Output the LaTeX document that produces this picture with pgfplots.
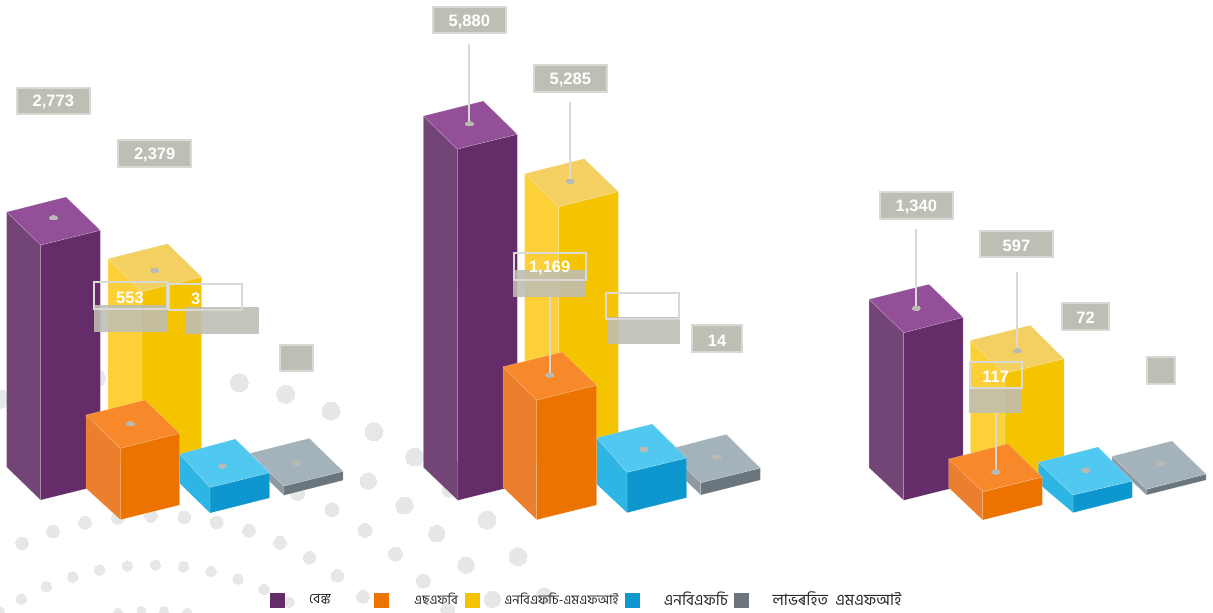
\documentclass[border=0pt]{standalone}
\usepackage{fontspec}
\setmainfont{Liberation Sans}
\newfontfamily\bn[Script=Bengali]{Hind Siliguri}
\usepackage{pgfplots}
\pgfplotsset{compat=1.18}

\definecolor{pF}{HTML}{642D69}\definecolor{pL}{HTML}{734577}\definecolor{pT}{HTML}{934F98}
\definecolor{yF}{HTML}{F5C400}\definecolor{yL}{HTML}{FDD037}\definecolor{yT}{HTML}{F4D062}
\definecolor{oF}{HTML}{EC7300}\definecolor{oL}{HTML}{EC7F2D}\definecolor{oT}{HTML}{F7892B}
\definecolor{bF}{HTML}{0E97CE}\definecolor{bL}{HTML}{2DB6E5}\definecolor{bT}{HTML}{50C8EF}
\definecolor{gF}{HTML}{6A757E}\definecolor{gL}{HTML}{8E99A1}\definecolor{gT}{HTML}{A4B2BB}
\definecolor{dotbg}{HTML}{E6E7E7}
\definecolor{boxfill}{HTML}{BFBEB5}
\definecolor{boxline}{HTML}{D9D9D6}
\definecolor{pin}{HTML}{B9BAB3}

% colour prefix, top: left back right front, bottom: left front right
\newcommand\threedbar[8]{
  \addplot[fill=#1L,draw=white,draw opacity=0.25,line width=0.5pt] coordinates {(#2) (#5) (#7) (#6)} -- cycle;
  \addplot[fill=#1F,draw=white,draw opacity=0.25,line width=0.5pt] coordinates {(#5) (#4) (#8) (#7)} -- cycle;
  \addplot[fill=#1T,draw=white,draw opacity=0.25,line width=0.5pt] coordinates {(#2) (#3) (#4) (#5)} -- cycle;
}
% x1 y1 x2 y2
\newcommand\solidbox[4]{
  \addplot[fill=boxfill,draw=boxline,line width=2pt] coordinates {(#1,#2) (#3,#2) (#3,#4) (#1,#4)} -- cycle;
}
\newcommand\emptybox[4]{
  \addplot[draw=boxline,line width=2pt] coordinates {(#1,#2) (#3,#2) (#3,#4) (#1,#4)} -- cycle;
}
\newcommand\shadebox[4]{
  \addplot[fill=boxfill,fill opacity=0.88,draw=none] coordinates {(#1,#2) (#3,#2) (#3,#4) (#1,#4)} -- cycle;
}
\newcommand\leader[3]{
  \addplot[draw=boxline,line width=2pt] coordinates {(#1,#2) (#1,#3)};
}
\newcommand\val[3]{
  \node[text=white,font=\fontsize{16.5}{18}\selectfont\bfseries] at (#1,#2+1.5) {#3};
}
\newcommand\legsq[3]{
  \addplot[fill=#3,draw=none] coordinates {(#1,593) (#2,593) (#2,608) (#1,608)} -- cycle;
}

\begin{document}
\begin{tikzpicture}
\path[use as bounding box] (0,0) rectangle (1213pt,613pt);
\clip (0,0) rectangle (1213pt,613pt);
\begin{axis}[
    at={(0,0)}, anchor=south west,
    scale only axis,
    width=1213pt,
    height=613pt,
    xmin=0, xmax=1213,
    ymin=0, ymax=613,
    y dir=reverse,
    hide axis,
    clip marker paths=true,
]
\addplot[fill=white,draw=none] coordinates {(0,0) (1213,0) (1213,613) (0,613)} -- cycle;

% background dots
\addplot[only marks,mark=*,mark size=9,mark options={fill=dotbg,draw=dotbg,line width=0pt}] coordinates {
 (239.3,382.7) (285.7,394.3) (331,411) (374,431.7) (414.6,457) (487,520) (518,556.7) (1,399) (96.4,378)
};
\addplot[only marks,mark=*,mark size=8.2,mark options={fill=dotbg,draw=dotbg,line width=0pt}] coordinates {
 (368.2,481) (404,505.7) (436.7,533.7) (466,565) (492.3,599.3) (544.3,596) (405,505.3)
};
\addplot[only marks,mark=*,mark size=7,mark options={fill=dotbg,draw=dotbg,line width=0pt}] coordinates {
 (423.3,581) (395.4,554) (365,530.3) (332,509.7) (297.5,493.3) (447.7,610) (-1,497) (449,490)
};
\addplot[only marks,mark=*,mark size=6.3,mark options={fill=dotbg,draw=dotbg,line width=0pt}] coordinates {
 (337.5,575.7) (309.6,557.7) (280,542.7) (249,530.7) (216.8,522.3) (184.3,517.3) (151,516) (118,517.7)
 (85,522.7) (52.9,531.3) (22,543.3) (363,596.7)
};
\addplot[only marks,mark=*,mark size=5.3,mark options={fill=dotbg,draw=dotbg,line width=0pt}] coordinates {
 (21.3,599) (46.3,586.7) (72.7,577) (99.7,570) (127.3,566) (155.3,565) (183.3,566.7) (211,571.3)
 (238,579) (264,589.3) (289,602.3)
};
\addplot[only marks,mark=*,mark size=4.6,mark options={fill=dotbg,draw=dotbg,line width=0pt}] coordinates {
 (118,612.7) (141.3,611) (164,611) (187.3,612.7) (0,611.7)
};

% group 1
\threedbar{p}{6.7,212}{66,197}{100.3,230.3}{40.7,245}{6.5,467}{40.5,500}{100.3,485.3}
\threedbar{y}{108,258.7}{167.7,243.7}{201.7,277}{142,291.7}{108,452}{142,485}{201.7,470}
\threedbar{g}{250,453.3}{309.3,438.3}{343.2,471.3}{283.9,486}{250,462.6}{283.9,495.3}{343.2,480.3}
\threedbar{b}{179.6,454}{235.4,439}{269.6,472.7}{210,487.3}{179.6,483.3}{210,513}{269.6,498}
\threedbar{o}{86,415}{145,400}{179.6,433.3}{120.4,448.3}{86,488.3}{120.4,519.7}{179.6,505}
% group 2
\threedbar{p}{423.3,116}{483.3,101}{517.3,134.3}{457.3,149}{423.3,467.3}{457.8,500.3}{517.3,485.5}
\threedbar{y}{524.7,173.7}{584.3,158.7}{618.3,191.7}{558.7,206.7}{524.7,452}{558.7,485}{618.3,470}
\threedbar{g}{666.7,449.7}{726.3,434.3}{760.3,468}{700.7,482.7}{666.7,462}{700.7,495}{760.3,480}
\threedbar{b}{596.7,437.7}{652.3,424}{686.7,458}{627,472.3}{596.7,484.3}{627,512.7}{686.7,497.7}
\threedbar{o}{503,366.7}{562.3,352}{596.7,385.3}{536.7,400}{503,487.3}{536.7,519.7}{596.7,505}
% group 3
\threedbar{p}{869,299.3}{929,284.3}{963,317.3}{903.7,332.7}{869,467.7}{903.7,500.3}{963,485.5}
\threedbar{y}{970.3,340.3}{1030.3,325.3}{1064,358.7}{1004.3,373.3}{970.3,452}{1004.3,485}{1064,470}
\threedbar{g}{1112,456.3}{1172,441}{1206,474}{1146.3,489.3}{1112,462}{1146.3,495}{1206,480}
\threedbar{b}{1038.3,462.3}{1098,447}{1132.3,481}{1073,495}{1038.3,483.3}{1073,512.7}{1132.3,497.7}
\threedbar{o}{948.7,459}{1008,443.7}{1042.3,477}{982.7,491.7}{948.7,487.7}{982.7,520}{1042.3,505}

% leader lines
\leader{469.3}{44.3}{123.7}
\leader{570.3}{102}{181.3}
\leader{549.7}{297}{375}
\leader{916.3}{229.3}{308.3}
\leader{1017.3}{271.7}{350.7}
\leader{995.7}{412.7}{472}

% pins on the bar tops
\addplot[only marks,mark=*,mark size=2.2,mark options={xscale=1.9,fill=pin,draw=pin,line width=0pt}] coordinates {
 (53.3,217.7) (154.7,270.3) (130.4,423.7) (222.5,466) (296.4,463)
 (469.3,123.7) (570.3,181.3) (549.7,375) (643.7,449.3) (717,457)
 (916.3,308.3) (1017.3,350.7) (995.7,472) (1085.7,470.3) (1161,463.7)
};

% value boxes
\solidbox{17}{87.7}{89.7}{114.3}
\solidbox{118.3}{140.3}{191.3}{167.3}
\solidbox{280}{344.5}{313}{371}
\shadebox{94}{305}{167}{331.7}
\shadebox{186}{307}{259}{334}
\emptybox{94}{282.3}{166.5}{309}
\emptybox{169}{283.7}{242}{310}

\solidbox{433}{7}{505.7}{33.3}
\solidbox{534.3}{65.3}{607}{91.7}
\solidbox{692.3}{325}{742}{351.7}
\shadebox{513}{270}{586}{297}
\shadebox{607}{317.3}{680}{344}
\emptybox{513.7}{253.3}{586}{279.7}
\emptybox{606.3}{293}{678.7}{319.3}

\solidbox{880}{192.3}{952.7}{218.7}
\solidbox{980.3}{230.7}{1052.7}{257}
\solidbox{1062.3}{303.3}{1108.7}{330}
\solidbox{1147}{357.3}{1175}{383.7}
\shadebox{969}{388}{1022}{412.7}
\emptybox{970}{362.3}{1021.7}{388.3}

% values
\val{53.3}{101}{2,773}
\val{154.7}{154}{2,379}
\val{130}{296}{553}
\val{195.7}{297.5}{3}
\val{469.3}{20.5}{5,880}
\val{570.3}{78.5}{5,285}
\val{549.7}{267}{1,169}
\val{717}{339}{14}
\val{916.3}{205.5}{1,340}
\val{1016.5}{244}{597}
\val{1085.5}{316.5}{72}
\val{995.7}{375.5}{117}

% legend
\legsq{270}{285}{pF}
\legsq{374.4}{389.4}{oF}
\legsq{465}{480}{yF}
\legsq{624.7}{639.7}{bF}
\legsq{733.7}{748.7}{gF}
\node[text=black!85,font=\bn\fontsize{14}{16}\selectfont] at (320,599) {বেঙ্ক};
\node[text=black!85,font=\bn\fontsize{13}{15}\selectfont] at (436,599) {এছএফবি};
\node[text=black!85,font=\bn\fontsize{13.1}{15}\selectfont] at (561.5,599) {এনবিএফচি-এমএফআই};
\node[text=black!85,font=\bn\fontsize{15.4}{17}\selectfont] at (696,598.5) {এনবিএফচি};
\node[text=black!85,font=\bn\fontsize{15.7}{17}\selectfont] at (837,598.5) {লাভৰহিত\ \ এমএফআই};
\end{axis}
\end{tikzpicture}
\end{document}
